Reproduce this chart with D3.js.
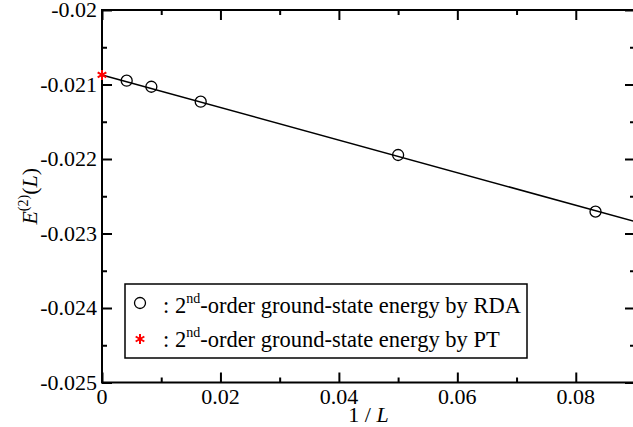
<!DOCTYPE html>
<html>
<head>
<meta charset="utf-8">
<script src="https://cdn.jsdelivr.net/npm/d3@7"></script>
<style>
  body { margin: 0; background: #fff; }
  svg text { font-family: 'Liberation Serif', 'Times New Roman', Times, 'DejaVu Serif', serif; fill: #000; }
</style>
</head>
<body>
<div class="chart"></div>
<script>
// data
var invL = [1 / 240, 1 / 120, 1 / 60, 1 / 20, 1 / 12];
var energyRDA = [-0.020949, -0.021030, -0.021231, -0.021946, -0.022707];
var ptPoint = [0, -0.020872];
var fitLine = [[0, -0.020872], [0.09, -0.02284]];

var xTicks = [0, 0.02, 0.04, 0.06, 0.08];
var xTickLabels = ['0', '0.02', '0.04', '0.06', '0.08'];
var xMinor = [0.01, 0.03, 0.05, 0.07, 0.09];
var yTicks = [-0.025, -0.024, -0.023, -0.022, -0.021, -0.02];
var yTickLabels = ['-0.025', '-0.024', '-0.023', '-0.022', '-0.021', '-0.02'];
var yMinor = [-0.0245, -0.0235, -0.0225, -0.0215, -0.0205];

var W = 633, H = 427;
var margin = { left: 102, top: 10, right: 635, bottom: 382.5 };

var svg = d3.select('.chart')
  .append('svg')
    .attr('width', W)
    .attr('height', H);

svg.append('rect').attr('width', W).attr('height', H).attr('fill', '#fff');

var x = d3.scaleLinear().domain([0, 0.09]).range([margin.left, margin.right]);
var y = d3.scaleLinear().domain([-0.025, -0.02]).range([margin.bottom, margin.top]);

// ticks, all inward
function ticks(axis, vals, size, tr) {
  var g = svg.append('g')
    .attr('transform', tr)
    .call(axis.tickValues(vals).tickSize(size).tickFormat(''));
  g.select('.domain').remove();
  g.selectAll('line').attr('stroke', '#000').attr('stroke-width', 2);
}
ticks(d3.axisBottom(x), xTicks, -10, `translate(0,${margin.bottom})`);
ticks(d3.axisBottom(x), xMinor, -5, `translate(0,${margin.bottom})`);
ticks(d3.axisTop(x), xTicks, -10, `translate(0,${margin.top})`);
ticks(d3.axisTop(x), xMinor, -5, `translate(0,${margin.top})`);
ticks(d3.axisLeft(y), yTicks, -10, `translate(${margin.left},0)`);
ticks(d3.axisLeft(y), yMinor, -5, `translate(${margin.left},0)`);
ticks(d3.axisRight(y), yTicks, -10, `translate(${margin.right},0)`);
ticks(d3.axisRight(y), yMinor, -5, `translate(${margin.right},0)`);

// frame
svg.append('rect')
  .attr('x', margin.left).attr('y', margin.top)
  .attr('width', margin.right - margin.left).attr('height', margin.bottom - margin.top)
  .attr('fill', 'none').attr('stroke', '#000').attr('stroke-width', 2);

// tick labels
svg.selectAll('.xl')
  .data(xTicks)
  .enter().append('text')
    .attr('x', d => x(d))
    .attr('y', 404)
    .attr('text-anchor', 'middle')
    .style('font-size', '22px')
    .text((d, i) => xTickLabels[i]);

svg.selectAll('.yl')
  .data(yTicks)
  .enter().append('text')
    .attr('x', 97)
    .attr('y', d => y(d) + 7)
    .attr('text-anchor', 'end')
    .style('font-size', '22px')
    .text((d, i) => yTickLabels[i]);

// axis titles
var xt = svg.append('text')
  .attr('x', (margin.left + margin.right) / 2)
  .attr('y', 422)
  .attr('text-anchor', 'middle')
  .style('font-size', '22px');
xt.append('tspan').text('1 / ');
xt.append('tspan').style('font-style', 'italic').text('L');

var yt = svg.append('text')
  .attr('transform', `translate(37,${(margin.top + margin.bottom) / 2}) rotate(-90)`)
  .attr('text-anchor', 'middle')
  .style('font-size', '22px');
yt.append('tspan').style('font-style', 'italic').text('E');
yt.append('tspan').attr('dy', -9).style('font-size', '14px').text('(2)');
yt.append('tspan').attr('dy', 9).text('(');
yt.append('tspan').style('font-style', 'italic').text('L');
yt.append('tspan').text(')');

// fit line
svg.append('path')
  .datum(fitLine)
  .attr('fill', 'none')
  .attr('stroke', '#000')
  .attr('stroke-width', 1.5)
  .attr('d', d3.line().x(d => x(d[0])).y(d => y(d[1])));

// RDA points
svg.selectAll('.pt')
  .data(invL)
  .enter().append('circle')
    .attr('cx', d => x(d))
    .attr('cy', (d, i) => y(energyRDA[i]))
    .attr('r', 5.5)
    .attr('fill', 'none')
    .attr('stroke', '#000')
    .attr('stroke-width', 1.3);

// PT point
var star = d3.symbol().type(d3.symbolAsterisk).size(70);
svg.append('path')
  .attr('d', star())
  .attr('transform', `translate(${x(ptPoint[0])},${y(ptPoint[1])})`)
  .attr('fill', 'none')
  .attr('stroke', 'red')
  .attr('stroke-width', 2);

// legend
var lg = svg.append('g');
lg.append('rect')
  .attr('x', 125).attr('y', 284)
  .attr('width', 402).attr('height', 74)
  .attr('fill', '#fff').attr('stroke', '#000').attr('stroke-width', 1.5);
lg.append('circle')
  .attr('cx', 140).attr('cy', 303)
  .attr('r', 5.5)
  .attr('fill', 'none').attr('stroke', '#000').attr('stroke-width', 1.3);
lg.append('path')
  .attr('d', star())
  .attr('transform', 'translate(140,339)')
  .attr('fill', 'none').attr('stroke', 'red').attr('stroke-width', 2);

var legendNames = ['RDA', 'PT'];
legendNames.forEach(function (n, i) {
  var t = lg.append('text')
    .attr('x', 163)
    .attr('y', 313 + i * 34)
    .style('font-size', '22.5px');
  t.append('tspan').text(': 2');
  t.append('tspan').attr('dy', -10).style('font-size', '14px').text('nd');
  t.append('tspan').attr('dy', 10).text('-order ground-state energy by ' + n);
});
</script>
</body>
</html>
